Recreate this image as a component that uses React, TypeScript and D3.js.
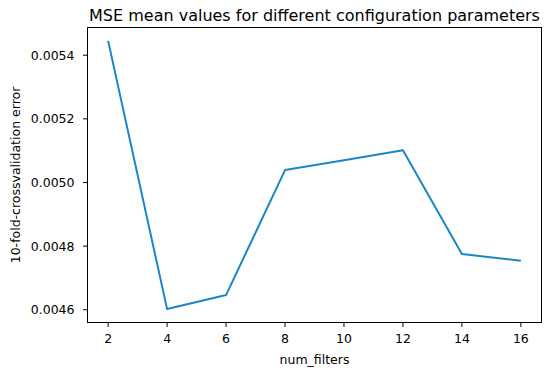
import * as d3 from 'd3';

const numFilters = [2, 4, 6, 8, 10, 12, 14, 16];
const mseValues = [0.005445, 0.004602, 0.004646, 0.005039, 0.00507, 0.005101, 0.004775, 0.004754];
const xTicks = [2, 4, 6, 8, 10, 12, 14, 16];
const yTicks = [0.0046, 0.0048, 0.005, 0.0052, 0.0054];

const title = 'MSE mean values for different configuration parameters';
const xLabel = 'num_filters';
const yLabel = '10-fold-crossvalidation error';

type Point = { x: number; y: number };

export default function App() {
  const width = 550;
  const height = 375;
  const left = 87.5;
  const right = 541.5;
  const top = 27.5;
  const bottom = 322.5;
  const font = 'DejaVu Sans, sans-serif';

  const data: Point[] = numFilters.map((x, i) => ({ x, y: mseValues[i] }));

  const xScale = d3.scaleLinear().domain([1.3, 16.7]).range([left, right]);
  const yMin = d3.min(mseValues)!;
  const yMax = d3.max(mseValues)!;
  const m = (yMax - yMin) * 0.05;
  const yScale = d3.scaleLinear().domain([yMin - m, yMax + m]).range([bottom, top]);

  const path =
    d3
      .line<Point>()
      .x((d) => xScale(d.x))
      .y((d) => yScale(d.y))(data) ?? '';

  return (
    <svg
      width={width}
      height={height}
      style={{ position: 'absolute', left: 0, top: 0, background: '#fff' }}
      fontFamily={font}
    >
      <rect x={0} y={0} width={width} height={height} fill="#fff" />
      <text x={(left + right) / 2} y={20.5} textAnchor="middle" fontSize={16} fill="#000">
        {title}
      </text>

      <path d={path} fill="none" stroke="#1a86c8" strokeWidth={2} strokeLinejoin="round" />

      <rect x={left} y={top} width={right - left} height={bottom - top} fill="none" stroke="#000" strokeWidth={1} />

      {xTicks.map((t) => (
        <g key={t} transform={`translate(${xScale(t)},${bottom})`}>
          <line y1={0} y2={4.5} stroke="#000" strokeWidth={1} />
          <text y={20.5} textAnchor="middle" fontSize={12.5} fill="#000">
            {t}
          </text>
        </g>
      ))}
      {yTicks.map((t) => (
        <g key={t} transform={`translate(${left},${yScale(t)})`}>
          <line x1={0} x2={-4.5} stroke="#000" strokeWidth={1} />
          <text x={-13} dy="0.36em" textAnchor="end" fontSize={12.5} fill="#000">
            {t.toFixed(4)}
          </text>
        </g>
      ))}

      <text x={(left + right) / 2} y={364} textAnchor="middle" fontSize={12.5} fill="#000">
        {xLabel}
      </text>
      <text
        transform={`translate(19.5,${(top + bottom) / 2}) rotate(-90)`}
        textAnchor="middle"
        fontSize={12.5}
        fill="#000"
      >
        {yLabel}
      </text>
    </svg>
  );
}
